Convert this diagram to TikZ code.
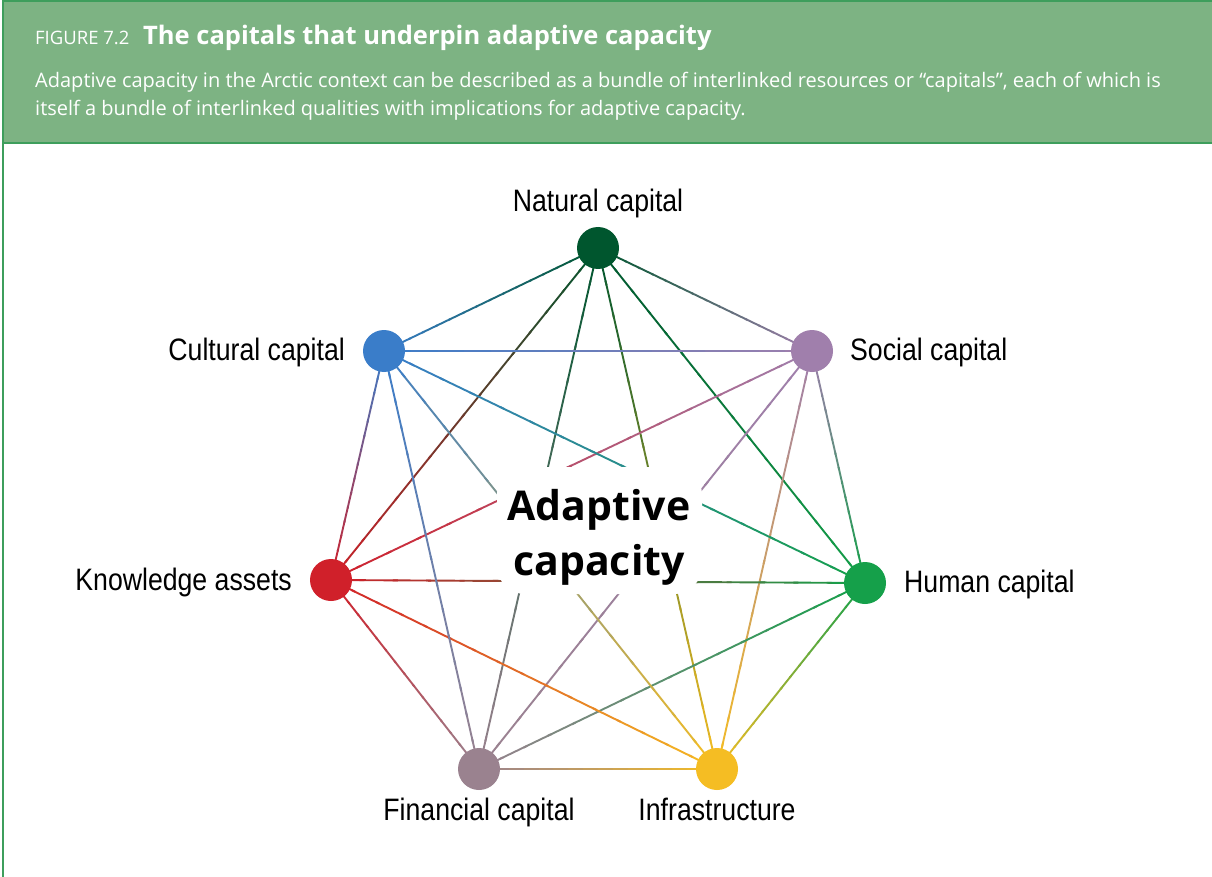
\documentclass[tikz,border=0pt]{standalone}
\usepackage{fontspec}
\usetikzlibrary{calc}
\setmainfont{Open Sans}
\newfontfamily\labfont[FakeStretch=0.86]{Liberation Sans}
\definecolor{hdrfill}{HTML}{7DB383}
\definecolor{hdrline}{HTML}{3E9E5C}
\definecolor{cNat}{HTML}{00562E}
\definecolor{cCul}{HTML}{3A7DC9}
\definecolor{cSoc}{HTML}{A07FAC}
\definecolor{cHum}{HTML}{15A04A}
\definecolor{cInf}{HTML}{F5BD23}
\definecolor{cFin}{HTML}{9A828F}
\definecolor{cKno}{HTML}{D0202A}
\tikzset{
  capnode/.style={circle, minimum size=42pt, inner sep=0pt, fill=#1},
  caplabel/.style={font=\labfont\fontsize{31}{34}\selectfont, text=black, inner sep=0pt},
  link/.style={line width=1.9pt, line cap=butt, draw=#1},
}
\begin{document}
\begin{tikzpicture}[x=1pt,y=-1pt]
\useasboundingbox (0,0) rectangle (1212,877);
\fill[white] (0,0) rectangle (1212,877);
% header
\draw[hdrline, line width=2pt, fill=hdrfill] (3,1) rectangle (1214,143);
\draw[hdrline, line width=2pt] (3,143) -- (3,877);
\node[anchor=base west, inner sep=0pt, text=white, font=\fontsize{18.5}{20}\selectfont] (fig) at (35,45) {FIGURE 7.2};
\node[anchor=base west, inner sep=0pt, text=white, font=\bfseries\fontsize{25.5}{27}\selectfont] (ttl) at (143,45) {The capitals that underpin adaptive capacity};
\node[anchor=base west, inner sep=0pt, text=white, font=\fontsize{20}{28.5}\selectfont, align=left] (desc) at (35,116) {Adaptive capacity in the Arctic context can be described as a bundle of interlinked resources or “capitals”, each of which is\\itself a bundle of interlinked qualities with implications for adaptive capacity.};
% node coordinates
\coordinate (pNat) at (598,248);
\coordinate (pSoc) at (812,351);
\coordinate (pHum) at (865,583);
\coordinate (pInf) at (717,769);
\coordinate (pFin) at (479,769);
\coordinate (pKno) at (331,580);
\coordinate (pCul) at (384,351);
% links (colour fades from one end to the other)
\foreach \a/\b in {Nat/Soc,Nat/Hum,Nat/Inf,Nat/Fin,Nat/Kno,Nat/Cul,
                   Soc/Hum,Soc/Inf,Soc/Fin,Soc/Kno,Soc/Cul,
                   Hum/Inf,Hum/Fin,Hum/Kno,Hum/Cul,
                   Inf/Fin,Inf/Kno,Inf/Cul,
                   Fin/Kno,Fin/Cul,
                   Kno/Cul}{
  \foreach \i in {0,...,15}{
    \pgfmathsetmacro{\s}{\i/16}
    \pgfmathsetmacro{\e}{min(1,(\i+1.15)/16)}
    \pgfmathsetmacro{\p}{100-(\i+0.5)/16*100}
    \draw[link=c\a!\p!c\b] ($(p\a)!\s!(p\b)$) -- ($(p\a)!\e!(p\b)$);
  }
}
% center halo and text
\fill[white, rounded corners=28pt] (497,467) rectangle (702,594);
\node[font=\bfseries\fontsize{41}{55}\selectfont, align=center, inner sep=0pt] (ac) at (599,537) {Adaptive\\capacity};
% capital nodes
\node[capnode=cNat] (nat) at (pNat) {};
\node[capnode=cSoc] (soc) at (pSoc) {};
\node[capnode=cHum] (hum) at (pHum) {};
\node[capnode=cInf] (inf) at (pInf) {};
\node[capnode=cFin] (fin) at (pFin) {};
\node[capnode=cKno] (kno) at (pKno) {};
\node[capnode=cCul] (cul) at (pCul) {};
% labels
\node[caplabel, anchor=south] (lnat) at (598,218) {Natural capital};
\node[caplabel, anchor=west] (lsoc) at (850,352) {Social capital};
\node[caplabel, anchor=west] (lhum) at (904,584) {Human capital};
\node[caplabel, anchor=north] (linf) at (717,798) {Infrastructure};
\node[caplabel, anchor=north] (lfin) at (479,798) {Financial capital};
\node[caplabel, anchor=east] (lkno) at (292,582) {Knowledge assets};
\node[caplabel, anchor=east] (lcul) at (345,352) {Cultural capital};
\end{tikzpicture}
\end{document}
